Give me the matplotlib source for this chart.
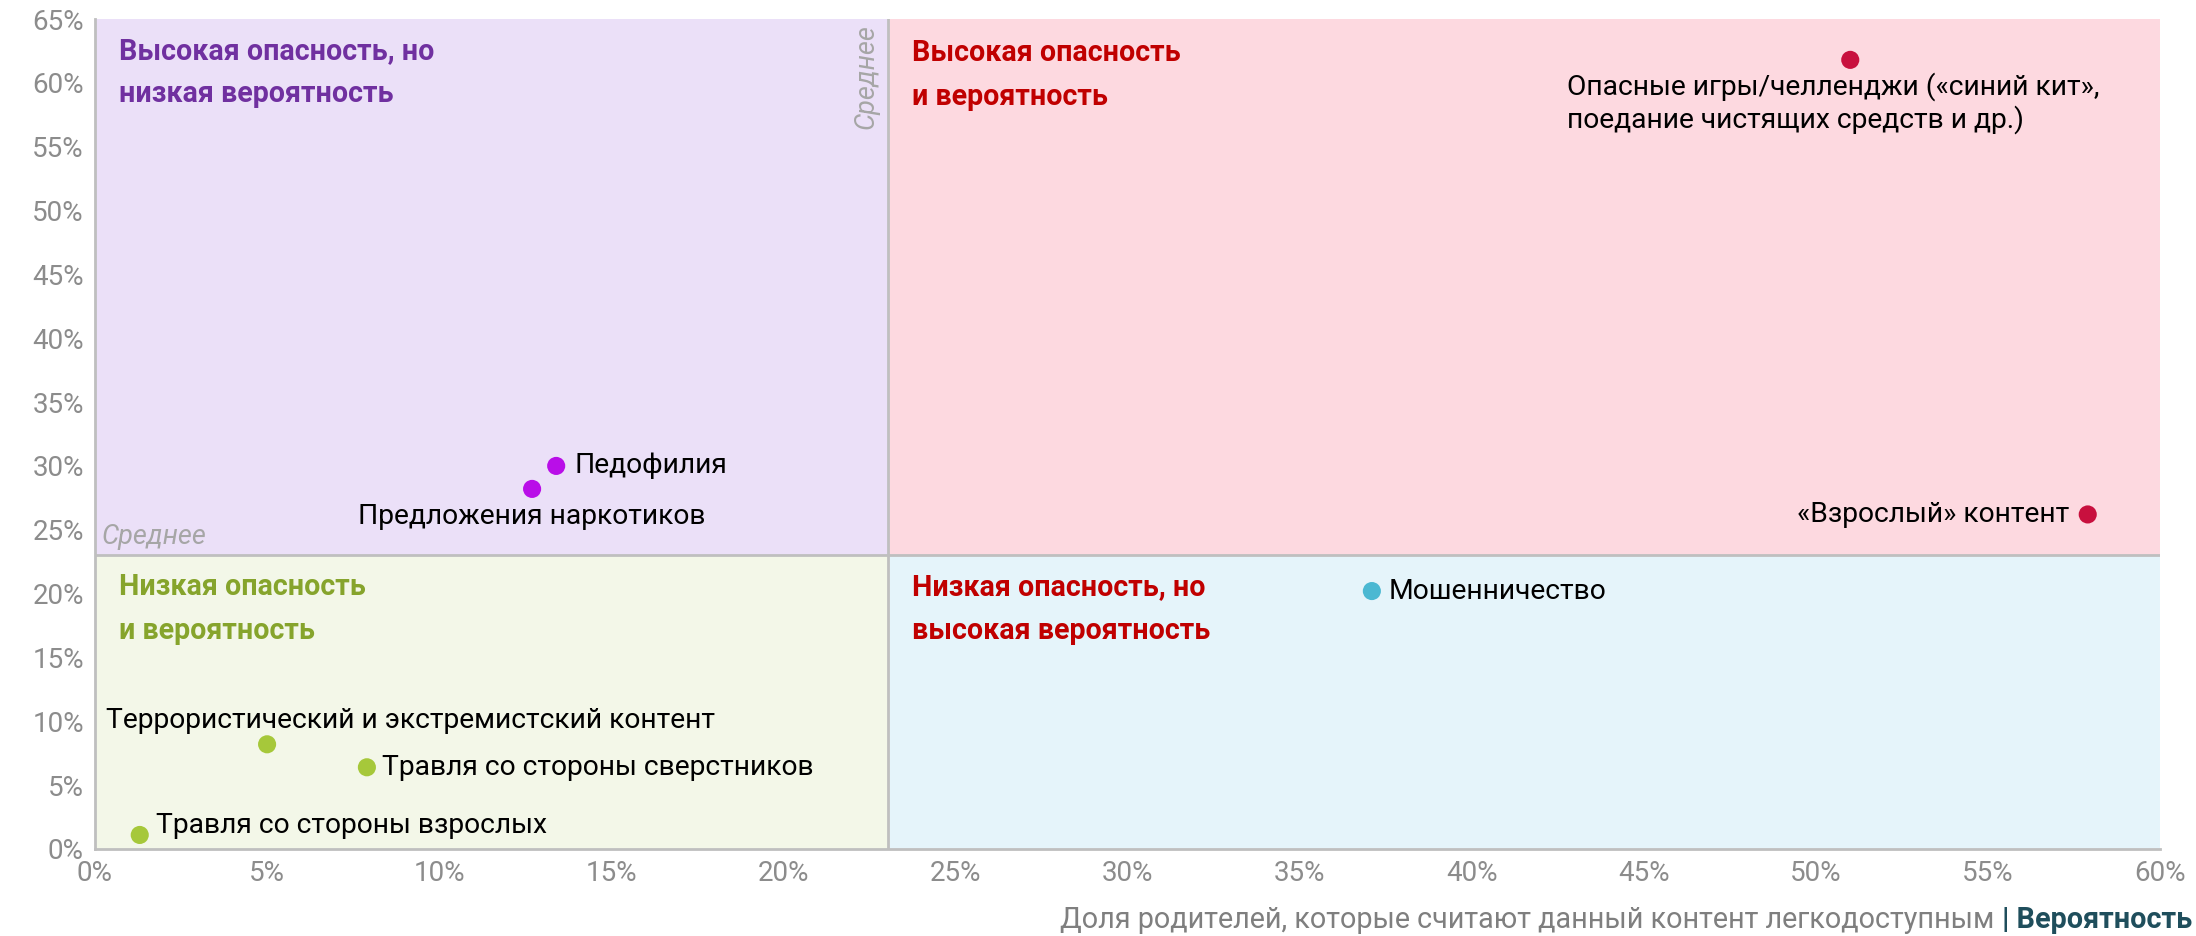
import matplotlib
matplotlib.use("Agg")
import matplotlib.pyplot as plt
from matplotlib.patches import Rectangle
from matplotlib.ticker import MultipleLocator, FuncFormatter

plt.rcParams["font.family"] = ["Roboto", "DejaVu Sans"]

# данные: x - вероятность (доступность), y - опасность
labels = [
    "Опасные игры/челленджи («синий кит»,\nпоедание чистящих средств и др.)",
    "«Взрослый» контент",
    "Педофилия",
    "Предложения наркотиков",
    "Мошенничество",
    "Террористический и экстремистский контент",
    "Травля со стороны сверстников",
    "Травля со стороны взрослых",
]
x_vals = [51.0, 57.9, 13.4, 12.7, 37.1, 5.0, 7.9, 1.3]
y_vals = [61.8, 26.2, 30.0, 28.2, 20.2, 8.2, 6.4, 1.1]
point_colors = ["#C8103E", "#C8103E", "#B90EE8", "#B90EE8", "#4BB8D2",
                "#A6C83A", "#A6C83A", "#A6C83A"]

mean_x = 23.05
mean_y = 23.05

quad_titles = [
    "Высокая опасность, но\nнизкая вероятность",
    "Высокая опасность\nи вероятность",
    "Низкая опасность\nи вероятность",
    "Низкая опасность, но\nвысокая вероятность",
]
quad_colors = ["#7030A0", "#C00000", "#86A42C", "#C00000"]

# смещения подписей (в пунктах) и выравнивание
offsets = [(-204, -9), (-13, 0), (13, 0), (0, -20), (12, 0), (103, 17), (11, 0), (12, 7)]
aligns = [("left", "top"), ("right", "center"), ("left", "center"), ("center", "center"),
          ("left", "center"), ("center", "center"), ("left", "center"), ("left", "center")]

fig = plt.figure(figsize=(21.96, 9.36), dpi=100)
ax = fig.add_axes([0.04326, 0.09295, 0.94035, 0.88675])

x_min, x_max = 0, 60
y_min, y_max = 0, 65

ax.add_patch(Rectangle((x_min, mean_y), mean_x - x_min, y_max - mean_y, color="#EBE0F8", zorder=0, lw=0))
ax.add_patch(Rectangle((mean_x, mean_y), x_max - mean_x, y_max - mean_y, color="#FDD9E0", zorder=0, lw=0))
ax.add_patch(Rectangle((x_min, y_min), mean_x - x_min, mean_y - y_min, color="#F3F7E8", zorder=0, lw=0))
ax.add_patch(Rectangle((mean_x, y_min), x_max - mean_x, mean_y - y_min, color="#E5F4FA", zorder=0, lw=0))

ax.axvline(mean_x, color="#BFBFBF", lw=2, zorder=1)
ax.axhline(mean_y, color="#BFBFBF", lw=2, zorder=1)

ax.scatter(x_vals, y_vals, s=170, c=point_colors, zorder=3, linewidths=0)

for lab, x, y, off, (ha, va) in zip(labels, x_vals, y_vals, offsets, aligns):
    ax.annotate(lab, (x, y), xytext=off, textcoords="offset points",
                ha=ha, va=va, fontsize=20.3, color="#000000", zorder=4,
                linespacing=1.2)

# подписи квадрантов
title_kw = dict(fontsize=20.6, fontweight="bold", va="top", ha="left", linespacing=1.7, zorder=4)
ax.text(0.7, 63.6, quad_titles[0], color=quad_colors[0], **title_kw)
ax.text(mean_x + 0.7, 63.4, quad_titles[1], color=quad_colors[1], **title_kw)
ax.text(0.7, 21.6, quad_titles[2], color=quad_colors[2], **title_kw)
ax.text(mean_x + 0.7, 21.6, quad_titles[3], color=quad_colors[3], **title_kw)

# "Среднее"
ax.text(0.2, mean_y + 0.4, "Среднее", color="#A6A6A6", fontsize=19.5, style="italic",
        ha="left", va="bottom", zorder=4)
ax.text(mean_x - 0.25, 64.6, "Среднее", color="#A6A6A6", fontsize=19.5, style="italic",
        ha="right", va="top", rotation=90, zorder=4)

ax.set_xlim(x_min, x_max)
ax.set_ylim(y_min, y_max)
ax.xaxis.set_major_locator(MultipleLocator(5))
ax.yaxis.set_major_locator(MultipleLocator(5))
pct = FuncFormatter(lambda v, _: f"{v:.0f}%")
ax.xaxis.set_major_formatter(pct)
ax.yaxis.set_major_formatter(pct)
ax.tick_params(length=0, labelsize=20, colors="#8C8C8C", pad=8)

for side in ["top", "right"]:
    ax.spines[side].set_visible(False)
for side in ["left", "bottom"]:
    ax.spines[side].set_color("#BFBFBF")
    ax.spines[side].set_linewidth(2)

# подпись оси X из двух частей
fig.canvas.draw()
renderer = fig.canvas.get_renderer()
bold_txt = fig.text(0.9985, 0.002, "| Вероятность", fontsize=20.7, fontweight="bold",
                    color="#1F4E5C", ha="right", va="bottom")
bb = bold_txt.get_window_extent(renderer=renderer)
left_edge = (bb.x0 - 8) / fig.bbox.width
fig.text(left_edge, 0.002, "Доля родителей, которые считают данный контент легкодоступным",
         fontsize=20.7, color="#7F7F7F", ha="right", va="bottom")

fig.savefig("out.png", dpi=100)
